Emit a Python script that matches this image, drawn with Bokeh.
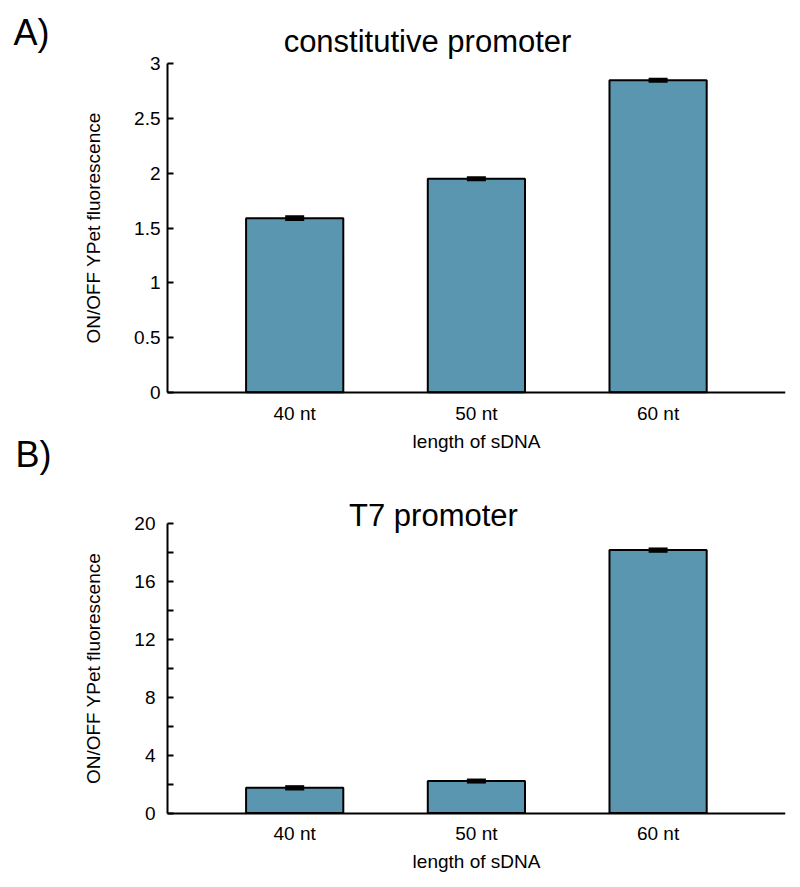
from bokeh.plotting import figure
from bokeh.layouts import column
from bokeh.models import (Range1d, FixedTicker, NumeralTickFormatter, ColumnDataSource,
                          Whisker, TeeHead, Label)
from bokeh.embed import file_html
from bokeh.resources import INLINE

# ---- data ----
categories = ["40 nt", "50 nt", "60 nt"]
const_values = [1.59, 1.95, 2.85]
const_errors = [0.012, 0.010, 0.010]
t7_values = [1.74, 2.21, 18.18]
t7_errors = [0.08, 0.07, 0.08]
const_yticks = [0, 0.5, 1, 1.5, 2, 2.5, 3]
const_yminor = []
t7_yticks = [0, 4, 8, 12, 16, 20]
t7_yminor = [2, 6, 10, 14, 18]
x_label = "length of sDNA"
y_label = "ON/OFF YPet fluorescence"

FONT = "Liberation Sans"
BAR_COLOR = "#5a96b0"

# ---- layout geometry (pixels) ----
W = 792            # figure width
FRAME_R = 785      # frame right edge (px)
AXIS_X_PX = 167.0  # where the y axis sits
CAT_PX = 181.7     # px per category
X_AXIS_START = -0.2
X_AXIS_END = 3.2
X_LO = X_AXIS_START - AXIS_X_PX / CAT_PX
X_HI = X_LO + FRAME_R / CAT_PX


def make_panel(values, errors, yticks, yminor, ymax, height, y_top_px, y_zero_px,
               ylab_standoff, ytick_standoff, xtick_standoff):
    xs = [i + 0.5 for i in range(len(categories))]
    src = ColumnDataSource(dict(
        x=xs, top=values,
        upper=[v + e for v, e in zip(values, errors)],
        lower=[v - e for v, e in zip(values, errors)],
    ))
    ppu = (y_zero_px - y_top_px) / ymax
    y_hi = y_zero_px / ppu
    y_lo = -(height - y_zero_px) / ppu
    p = figure(width=W, height=height, output_backend="svg", toolbar_location=None,
               x_range=Range1d(X_LO, X_HI), y_range=Range1d(y_lo, y_hi),
               min_border_left=0, min_border_right=W - FRAME_R,
               min_border_top=0, min_border_bottom=0)
    p.xgrid.visible = False
    p.ygrid.visible = False
    p.outline_line_color = None
    p.background_fill_color = "white"
    p.border_fill_color = "white"

    p.vbar(x="x", top="top", width=0.535, source=src, fill_color=BAR_COLOR,
           line_color="black", line_width=2)
    w = Whisker(base="x", upper="upper", lower="lower", source=src,
                line_color="black", line_width=2, level="overlay",
                upper_head=TeeHead(size=19, line_width=3, line_color="black"),
                lower_head=TeeHead(size=19, line_width=3, line_color="black"))
    p.add_layout(w)

    xa = p.xaxis[0]
    xa.fixed_location = 0
    xa.bounds = (X_AXIS_START, X_AXIS_END)
    xa.ticker = FixedTicker(ticks=xs, minor_ticks=[])
    xa.major_label_overrides = {x: c for x, c in zip(xs, categories)}
    xa.major_tick_line_color = None
    xa.minor_tick_line_color = None
    xa.axis_line_width = 2
    xa.axis_line_color = "black"
    xa.major_label_text_font = FONT
    xa.major_label_text_font_size = "19px"
    xa.major_label_text_color = "black"
    xa.major_label_standoff = xtick_standoff
    xa.axis_label = x_label
    xa.axis_label_text_font = FONT
    xa.axis_label_text_font_size = "19px"
    xa.axis_label_text_font_style = "normal"
    xa.axis_label_text_color = "black"
    xa.axis_label_standoff = 3

    ya = p.yaxis[0]
    ya.fixed_location = X_AXIS_START
    ya.bounds = (0, ymax)
    ya.ticker = FixedTicker(ticks=yticks, minor_ticks=yminor)
    ya.formatter = NumeralTickFormatter(format="0.[0]")
    ya.major_tick_in = 6
    ya.major_tick_out = 0
    ya.minor_tick_in = 6
    ya.minor_tick_out = 0
    ya.major_tick_line_width = 2
    ya.minor_tick_line_width = 2
    ya.major_tick_line_color = "black"
    ya.minor_tick_line_color = "black"
    ya.axis_line_width = 2
    ya.axis_line_color = "black"
    ya.major_label_text_font = FONT
    ya.major_label_text_font_size = "19px"
    ya.major_label_text_color = "black"
    ya.major_label_standoff = ytick_standoff
    ya.axis_label = y_label
    ya.axis_label_text_font = FONT
    ya.axis_label_text_font_size = "19px"
    ya.axis_label_text_font_style = "normal"
    ya.axis_label_text_color = "black"
    ya.axis_label_standoff = ylab_standoff
    return p


def add_text(p, text, y, dx, dy, size, align):
    p.add_layout(Label(x=X_AXIS_START, y=y, x_offset=dx, y_offset=dy, text=text,
                       text_font=FONT, text_font_size=size, text_align=align,
                       text_baseline="alphabetic", text_color="black"))


HA = 480
pA = make_panel(const_values, const_errors, const_yticks, const_yminor, 3,
                height=HA, y_top_px=63.3, y_zero_px=391.7,
                ylab_standoff=27, ytick_standoff=7, xtick_standoff=5)
add_text(pA, "constitutive promoter", 3, 260, 22, "31px", "center")
add_text(pA, "A)", 3, -154, 31, "36px", "left")
add_text(pA, "B)", 0, -152, -62, "36px", "left")

HB = 404
pB = make_panel(t7_values, t7_errors, t7_yticks, t7_yminor, 20,
                height=HB, y_top_px=523.3 - HA, y_zero_px=812.5 - HA,
                ylab_standoff=27, ytick_standoff=12, xtick_standoff=4)
add_text(pB, "T7 promoter", 20, 266, 8, "31px", "center")

layout = column(pA, pB, spacing=0)
open("out.html", "w").write(file_html(layout, INLINE))
